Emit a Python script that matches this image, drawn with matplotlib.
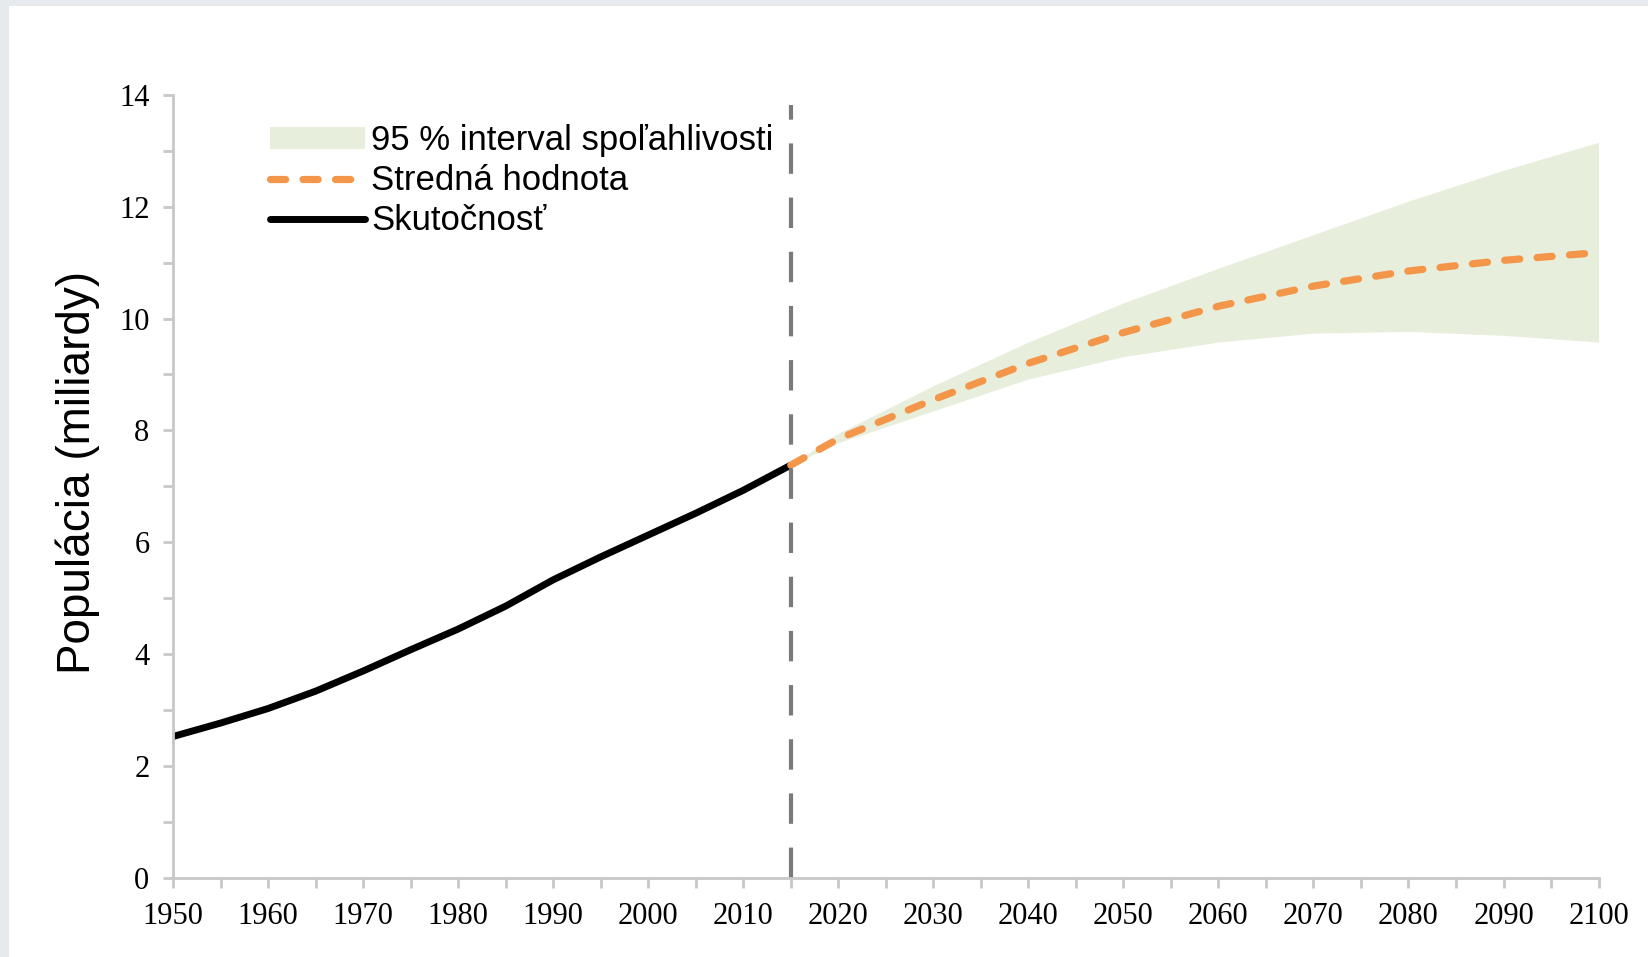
import numpy as np
import matplotlib.pyplot as plt
from matplotlib.patches import Rectangle, Patch
from matplotlib.lines import Line2D

# historical world population (billions)
years_hist = [1950, 1955, 1960, 1965, 1970, 1975, 1980, 1985, 1990, 1995, 2000, 2005, 2010, 2015]
pop_hist = [2.53, 2.77, 3.03, 3.34, 3.70, 4.08, 4.45, 4.86, 5.33, 5.74, 6.13, 6.52, 6.93, 7.38]

# UN projection: median and 95 % interval
years_proj = [2015, 2020, 2030, 2040, 2050, 2060, 2070, 2080, 2090, 2100]
pop_median = [7.38, 7.85, 8.55, 9.20, 9.75, 10.22, 10.58, 10.85, 11.04, 11.18]
pop_upper = [7.38, 7.95, 8.80, 9.58, 10.28, 10.90, 11.50, 12.10, 12.65, 13.15]
pop_lower = [7.38, 7.78, 8.35, 8.92, 9.32, 9.58, 9.74, 9.77, 9.70, 9.58]

plt.rcParams['font.family'] = 'Liberation Serif'

BAND = '#e8eedc'
ORANGE = '#f4964a'
DASH = (2.1, 2.4)

fig = plt.figure(figsize=(16.48, 9.57), dpi=100)
fig.patch.set_facecolor('#e6eaee')
fig.patches.append(Rectangle((9 / 1648, 0), 1, 1 - 6 / 957, transform=fig.transFigure,
                             facecolor='white', edgecolor='none', zorder=-10))

ax = fig.add_axes([0.105, 0.0825, 0.865, 0.8185])
ax.set_facecolor('none')

ax.fill_between(years_proj, pop_lower, pop_upper, color=BAND, lw=0)
ax.plot(years_hist, pop_hist, color='black', lw=5, solid_capstyle='butt')
ax.plot(years_proj, pop_median, color=ORANGE, lw=5.2, dashes=DASH,
        dash_capstyle='round')
ax.plot([2015, 2015], [0, 13.82], color='#7a7a7a', lw=3, dashes=(7.3, 5.7))

ax.set_xlim(1950, 2100)
ax.set_ylim(0, 14)
ax.set_xticks(np.arange(1950, 2101, 10))
ax.set_xticks(np.arange(1955, 2100, 10), minor=True)
ax.set_yticks(np.arange(0, 15, 2))
ax.set_yticks(np.arange(1, 14, 2), minor=True)

for s in ['top', 'right']:
    ax.spines[s].set_visible(False)
for s in ['left', 'bottom']:
    ax.spines[s].set_color('#c8c8c8')
    ax.spines[s].set_linewidth(2)
ax.spines['left'].set_bounds(0, 14)

ax.tick_params(axis='both', which='both', direction='out', color='#c8c8c8',
               width=2, length=7, labelsize=22, pad=10)
ax.tick_params(axis='x', which='both', pad=10)

ax.set_ylabel('Populácia (miliardy)', family='Liberation Sans', fontsize=33)
ax.yaxis.set_label_coords(-0.051, 0.518)

handles = [Patch(facecolor=BAND, edgecolor='none'),
           Line2D([], [], color=ORANGE, lw=5.2, dashes=DASH, dash_capstyle='round'),
           Line2D([], [], color='black', lw=5, solid_capstyle='round')]
labels = ['95 % interval spoľahlivosti', 'Stredná hodnota', 'Skutočnosť']
ax.legend(handles, labels, loc='upper left', bbox_to_anchor=(0.058, 0.98), frameon=False,
          prop={'family': 'Liberation Sans', 'size': 25}, handlelength=2.75,
          handleheight=0.6, handletextpad=0.18, labelspacing=0.2, borderaxespad=0)

fig.savefig('out.png', dpi=100, facecolor=fig.get_facecolor())
